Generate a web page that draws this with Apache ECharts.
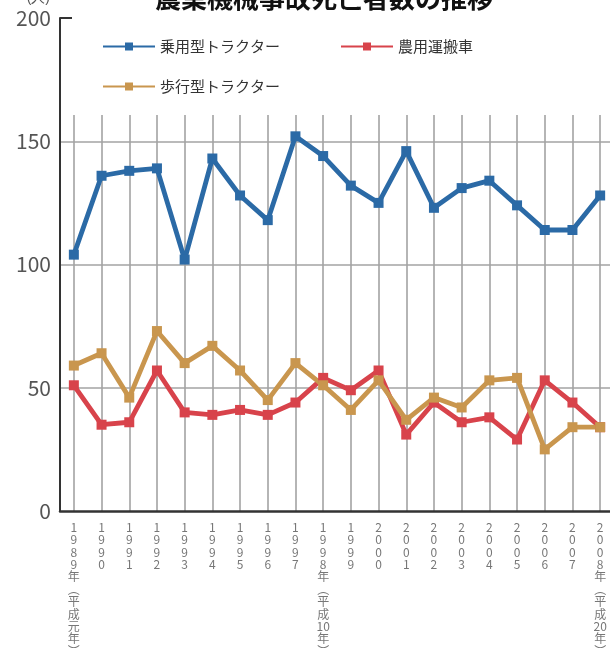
<!DOCTYPE html>
<html>
<head>
<meta charset="utf-8">
<script src="https://cdn.jsdelivr.net/npm/echarts@6/dist/echarts.min.js"></script>
<style>
html, body { margin: 0; padding: 0; background: #fff; }
#main { width: 610px; height: 651px; }
</style>
</head>
<body>
<div id="main"></div>
<script>
var years = ['1989年︵平成元年︶', '1990', '1991', '1992', '1993', '1994', '1995', '1996', '1997',
    '1998年︵平成10年︶', '1999', '2000', '2001', '2002', '2003', '2004', '2005', '2006', '2007',
    '2008年︵平成20年︶'];
var joyo = [104, 136, 138, 139, 102, 143, 128, 118, 152, 144, 132, 125, 146, 123, 131, 134, 124, 114, 114, 128];
var unpansha = [51, 35, 36, 57, 40, 39, 41, 39, 44, 54, 49, 57, 31, 44, 36, 38, 29, 53, 44, 34];
var hoko = [59, 64, 46, 73, 60, 67, 57, 45, 60, 51, 41, 53, 37, 46, 42, 53, 54, 25, 34, 34];
var yTicks = [0, 50, 100, 150, 200];

window.onload = function() {
    var chartBox = document.getElementById('main'),
        myChart = echarts.init(chartBox),
        option;

    var font = '"Noto Sans CJK JP", "Noto Sans", sans-serif';
    var gridColor = '#a3a3a3';

    // stack label characters vertically, keep the era year (10, 20) in one row
    function verticalLabel(v) {
        var cut = v.indexOf('成');
        if (cut < 0) return v.split('').join('\n');
        var parts = v.slice(0, cut + 1).split('').concat(v.slice(cut + 1).match(/\d+|./g));
        return parts.join('\n');
    }

    function makeSeries(name, data, color) {
        return {
            name: name,
            type: 'line',
            data: data,
            symbol: 'rect',
            symbolSize: 10,
            lineStyle: { width: 4.8, color: color },
            itemStyle: { color: color },
            z: 3
        };
    }

    var legendBase = {
        itemWidth: 52,
        itemHeight: 10,
        textStyle: { fontSize: 15, color: '#333', fontFamily: font }
    };

    option = {
        animation: false,
        title: {
            text: '農業機械事故死亡者数の推移',
            left: 150,
            top: -20,
            textStyle: { fontSize: 26, fontWeight: 'bold', color: '#111', fontFamily: font }
        },
        legend: [
            Object.assign({ data: ['乗用型トラクター'], left: 97, top: 34 }, legendBase),
            Object.assign({ data: ['農用運搬車'], left: 335, top: 34 }, legendBase),
            Object.assign({ data: ['歩行型トラクター'], left: 97, top: 74 }, legendBase)
        ],
        grid: [
            { left: 60, right: -4, top: 18, bottom: 140, outerBoundsMode: 'none', containLabel: false },
            { left: 73.85, right: 9.85, top: 115, bottom: 140, outerBoundsMode: 'none', containLabel: false }
        ],
        xAxis: [{
            type: 'category',
            data: years,
            gridIndex: 0,
            boundaryGap: true,
            axisLine: { lineStyle: { color: '#333', width: 2.5 } },
            axisTick: { show: false },
            splitLine: { show: false },
            axisLabel: {
                interval: 0,
                margin: 10,
                fontSize: 12,
                lineHeight: 12.4,
                color: '#777',
                fontFamily: font,
                verticalAlign: 'top',
                formatter: verticalLabel
            }
        }, {
            type: 'category',
            data: years,
            gridIndex: 1,
            boundaryGap: false,
            axisLine: { show: false },
            axisTick: { show: false },
            axisLabel: { show: false, interval: 0 },
            splitLine: { show: true, interval: 0, lineStyle: { color: gridColor, width: 1.6 } }
        }],
        yAxis: [{
            type: 'value',
            gridIndex: 0,
            min: yTicks[0],
            max: yTicks[yTicks.length - 1],
            interval: 50,
            axisLine: { show: true, lineStyle: { color: '#333', width: 2 } },
            axisTick: { show: false },
            axisLabel: { fontSize: 21, color: '#555', margin: 9, fontFamily: font },
            splitLine: {
                show: true,
                lineStyle: { color: ['transparent', gridColor, gridColor, gridColor, 'transparent'], width: 1.6 }
            },
            name: '(人)',
            nameLocation: 'end',
            nameGap: 13,
            nameTextStyle: { fontSize: 14, color: '#555', align: 'right', padding: [0, 10, 0, 0] }
        }, {
            type: 'value',
            gridIndex: 1,
            show: false,
            min: 0,
            max: 200
        }],
        series: [
            makeSeries('乗用型トラクター', joyo, '#2b6aa6'),
            makeSeries('農用運搬車', unpansha, '#d8434b'),
            makeSeries('歩行型トラクター', hoko, '#c9964e')
        ]
    };

    myChart.setOption(option);

    // small corner tick at the top of the value axis
    var p0 = myChart.convertToPixel({ xAxisIndex: 0, yAxisIndex: 0 }, [0, yTicks[yTicks.length - 1]]);
    myChart.setOption({
        graphic: [{
            type: 'line',
            shape: { x1: 60, y1: p0[1], x2: 72, y2: p0[1] },
            style: { stroke: '#333', lineWidth: 2 }
        }]
    });
};
</script>
</body>
</html>
